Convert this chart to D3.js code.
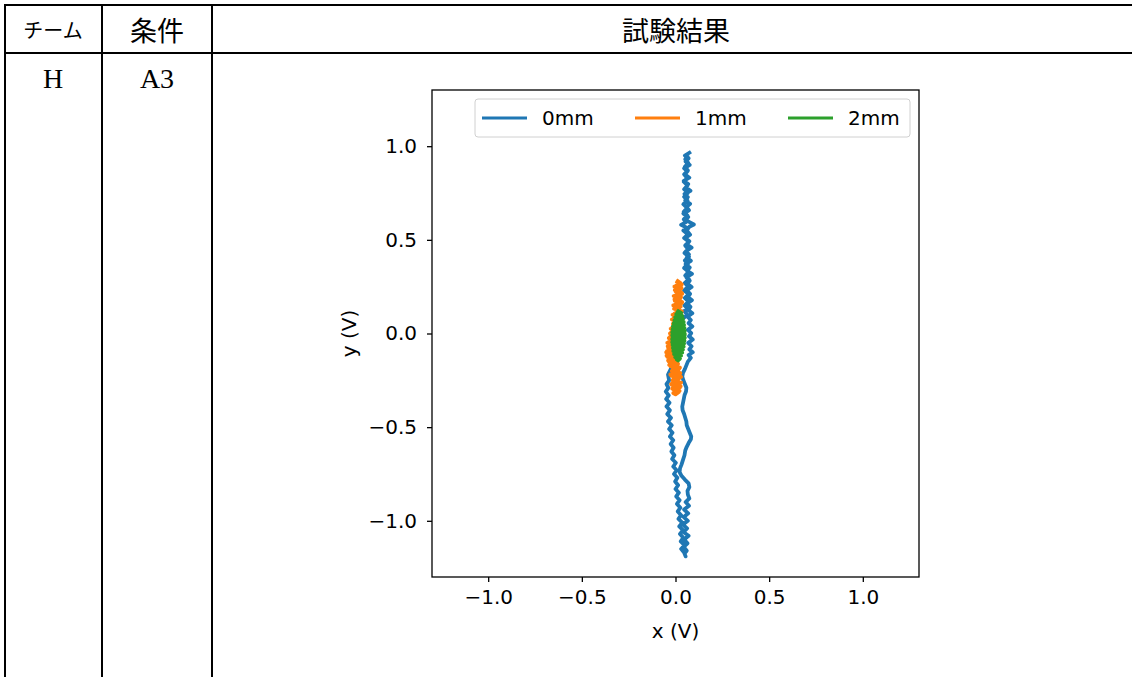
<!DOCTYPE html>
<html>
<head>
<meta charset="utf-8">
<script src="https://cdn.jsdelivr.net/npm/d3@7"></script>
<style>
  body { margin: 0; background: #fff; }
  svg { display: block; }
</style>
</head>
<body>
<svg id="page" width="1132" height="677"></svg>
<script>
// table texts
var headers = ["チーム", "条件", "試験結果"]
var rowCells = ["H", "A3"]

// axis ticks
var xTicks = [-1.0, -0.5, 0.0, 0.5, 1.0]
var yTicks = [-1.0, -0.5, 0.0, 0.5, 1.0]

var seriesNames = ["0mm", "1mm", "2mm"]
var seriesColors = ["#1f77b4", "#ff7f0e", "#2ca02c"]

// 0mm trace  [x, y] in volts
var trace0 = [
  [0.074,0.965],[0.050,0.950],[0.070,0.935],[0.054,0.918],[0.076,0.900],[0.046,0.882],[0.064,0.866],[0.050,0.850],
  [0.074,0.832],[0.044,0.815],[0.068,0.798],[0.056,0.780],[0.080,0.762],[0.048,0.745],[0.066,0.728],[0.052,0.710],
  [0.078,0.692],[0.058,0.675],[0.072,0.658],[0.042,0.640],[0.068,0.622],[0.056,0.605],[0.080,0.592],[0.098,0.582],
  [0.074,0.570],[0.060,0.550],[0.078,0.528],[0.052,0.510],[0.074,0.492],[0.060,0.475],[0.086,0.458],[0.056,0.440],
  [0.072,0.422],[0.060,0.405],[0.082,0.388],[0.054,0.370],[0.076,0.352],[0.062,0.335],[0.088,0.318],[0.058,0.300],
  [0.076,0.282],[0.064,0.265],[0.086,0.248],[0.060,0.230],[0.078,0.212],[0.066,0.195],[0.088,0.178],[0.062,0.160],
  [0.080,0.142],[0.068,0.125],[0.090,0.108],[0.064,0.090],[0.082,0.072],[0.070,0.055],[0.090,0.038],[0.066,0.020],
  [0.084,0.002],[0.072,-0.015],[0.092,-0.032],[0.068,-0.050],[0.086,-0.068],[0.074,-0.085],[0.092,-0.100],[0.070,-0.115],
  [0.082,-0.130],[0.066,-0.150],
  [0.058,-0.170],[0.050,-0.190],[0.040,-0.210],[0.036,-0.230],[0.042,-0.250],[0.050,-0.270],[0.058,-0.290],[0.056,-0.310],
  [0.048,-0.330],[0.044,-0.350],[0.040,-0.370],[0.036,-0.390],[0.038,-0.410],[0.046,-0.430],[0.052,-0.450],[0.058,-0.470],
  [0.060,-0.490],[0.068,-0.510],[0.076,-0.530],[0.084,-0.550],[0.082,-0.565],[0.070,-0.585],[0.060,-0.605],[0.052,-0.625],
  [0.048,-0.650],[0.040,-0.675],[0.032,-0.700],[0.024,-0.720],[0.022,-0.740],[0.032,-0.760],[0.050,-0.780],[0.070,-0.800],
  [0.074,-0.820],[0.064,-0.840],[0.066,-0.860],[0.074,-0.880],
  [0.054,-0.900],[0.072,-0.920],[0.046,-0.940],[0.068,-0.960],[0.044,-0.980],[0.066,-1.000],[0.040,-1.020],[0.062,-1.040],
  [0.042,-1.060],[0.070,-1.080],[0.046,-1.100],[0.064,-1.120],[0.044,-1.140],[0.060,-1.160],[0.048,-1.175],[0.054,-1.190],
  [0.046,-1.17],[0.030,-1.15],[0.048,-1.13],[0.028,-1.11],[0.042,-1.09],[0.024,-1.07],[0.040,-1.05],[0.020,-1.03],
  [0.036,-1.01],[0.016,-0.99],[0.030,-0.97],[0.012,-0.95],[0.026,-0.93],[0.008,-0.91],[0.022,-0.89],[0.004,-0.87],
  [0.018,-0.85],[0.000,-0.83],[0.014,-0.81],[-0.002,-0.79],[0.010,-0.77],[-0.008,-0.75],[0.006,-0.73],[-0.012,-0.71],
  [0.002,-0.69],[-0.018,-0.67],[-0.006,-0.65],[-0.022,-0.63],[-0.010,-0.61],[-0.026,-0.59],[-0.012,-0.57],[-0.030,-0.55],
  [-0.016,-0.53],[-0.034,-0.51],[-0.020,-0.49],[-0.040,-0.47],[-0.024,-0.45],[-0.044,-0.43],[-0.030,-0.41],[-0.048,-0.39],
  [-0.032,-0.37],[-0.050,-0.35],[-0.036,-0.33],[-0.052,-0.31],[-0.038,-0.29],[-0.048,-0.27],[-0.034,-0.25],[-0.040,-0.22],
  [-0.020,-0.18],[-0.030,-0.14],[-0.010,-0.10],[-0.018,-0.06],[0.005,-0.02],[0.000,0.02],[0.025,0.05],[0.040,0.08],
  [0.064,0.10],[0.046,0.12],[0.068,0.13],[0.048,0.15],[0.070,0.17],[0.050,0.19],[0.072,0.21],[0.046,0.23],
  [0.068,0.25],[0.050,0.27],[0.072,0.29],[0.052,0.31],[0.070,0.33],[0.046,0.35],[0.066,0.37],[0.050,0.39],
  [0.072,0.41],[0.048,0.43],[0.068,0.45],[0.052,0.47],[0.072,0.49],[0.046,0.51],[0.066,0.53],[0.042,0.55],
  [0.060,0.565],[0.030,0.580],[0.056,0.595],[0.044,0.61],[0.064,0.63],[0.044,0.65],[0.062,0.67],[0.042,0.69],
  [0.064,0.71],[0.046,0.73],[0.066,0.75],[0.046,0.77],[0.064,0.79],[0.044,0.81],[0.062,0.83],[0.046,0.85],
  [0.066,0.87],[0.050,0.89],[0.068,0.91],[0.052,0.93],[0.062,0.945]
]

// 1mm trace
var trace1 = [
  [0.010,0.275],[0.034,0.262],[-0.006,0.250],[0.030,0.238],[0.000,0.225],[0.036,0.212],[-0.010,0.200],[0.026,0.188],
  [-0.004,0.175],[0.034,0.162],[-0.012,0.150],[0.022,0.138],[0.002,0.125],[0.032,0.112],[-0.016,0.100],[0.020,0.088],
  [-0.020,0.075],[0.024,0.062],[-0.014,0.050],[0.018,0.038],[-0.026,0.025],[0.014,0.012],[-0.030,0.000],[0.010,-0.012],
  [-0.036,-0.025],[0.006,-0.038],[-0.044,-0.050],[0.000,-0.062],[-0.040,-0.075],[0.004,-0.088],[-0.050,-0.100],[-0.004,-0.112],
  [-0.044,-0.125],[0.008,-0.138],[-0.036,-0.150],[0.014,-0.162],[-0.028,-0.175],[0.020,-0.188],[-0.020,-0.200],[0.026,-0.212],
  [-0.024,-0.225],[0.022,-0.238],[-0.016,-0.250],[0.030,-0.262],[-0.020,-0.275],[0.024,-0.288],[-0.010,-0.300],[0.018,-0.312],
  [0.000,-0.325],
  [-0.012,-0.318],[0.022,-0.306],[-0.018,-0.294],[0.028,-0.282],[-0.024,-0.270],[0.016,-0.256],[-0.012,-0.244],[0.030,-0.232],
  [-0.028,-0.218],[0.018,-0.206],[-0.016,-0.194],[0.024,-0.182],[-0.034,-0.168],[0.010,-0.156],[-0.040,-0.144],[0.002,-0.132],
  [-0.048,-0.118],[0.006,-0.106],[-0.046,-0.094],[-0.002,-0.082],[-0.042,-0.068],[0.008,-0.056],[-0.036,-0.044],[0.012,-0.032],
  [-0.030,-0.018],[0.016,-0.006],[-0.024,0.006],[0.020,0.018],[-0.018,0.032],[0.026,0.044],[-0.012,0.056],[0.028,0.068],
  [-0.010,0.082],[0.030,0.094],[-0.006,0.106],[0.034,0.118],[-0.008,0.132],[0.028,0.144],[0.000,0.156],[0.036,0.168],
  [-0.006,0.182],[0.030,0.194],[0.002,0.206],[0.034,0.218],[-0.004,0.232],[0.032,0.244],[0.004,0.256],[0.028,0.268],
  [0.012,0.280]
]

// 2mm trace
var trace2 = [
  [0.016,0.118],[0.030,0.110],[0.004,0.102],[0.036,0.094],[-0.002,0.086],[0.040,0.078],[-0.006,0.070],[0.044,0.062],
  [-0.010,0.054],[0.046,0.046],[-0.014,0.038],[0.048,0.030],[-0.016,0.022],[0.050,0.014],[-0.018,0.006],[0.050,-0.002],
  [-0.018,-0.010],[0.048,-0.018],[-0.016,-0.026],[0.046,-0.034],[-0.016,-0.042],[0.044,-0.050],[-0.014,-0.058],[0.040,-0.066],
  [-0.012,-0.074],[0.036,-0.082],[-0.008,-0.090],[0.032,-0.098],[-0.004,-0.106],[0.028,-0.114],[0.000,-0.122],[0.022,-0.130],
  [0.006,-0.138],[0.014,-0.144],
  [0.024,-0.134],[-0.002,-0.126],[0.030,-0.118],[-0.008,-0.110],[0.036,-0.102],[-0.012,-0.094],[0.040,-0.086],[-0.014,-0.078],
  [0.044,-0.070],[-0.016,-0.062],[0.046,-0.054],[-0.018,-0.046],[0.048,-0.038],[-0.018,-0.030],[0.050,-0.022],[-0.016,-0.014],
  [0.050,-0.006],[-0.016,0.002],[0.048,0.010],[-0.014,0.018],[0.046,0.026],[-0.012,0.034],[0.044,0.042],[-0.008,0.050],
  [0.040,0.058],[-0.004,0.066],[0.036,0.074],[0.000,0.082],[0.032,0.090],[0.004,0.098],[0.026,0.106],[0.012,0.114]
]

var traces = [trace0, trace1, trace2]

var page = d3.select("#page")

// ---- table frame
var tableFont = "'Liberation Serif', 'Noto Sans CJK JP', serif"
var grid = page.append("g").attr("stroke", "#000").attr("stroke-width", 2)
grid.append("line").attr("x1", 4).attr("x2", 1140).attr("y1", 5).attr("y2", 5)
grid.append("line").attr("x1", 4).attr("x2", 1140).attr("y1", 53).attr("y2", 53)
;[5, 102, 212].forEach(function (cx) {
  grid.append("line").attr("x1", cx).attr("x2", cx).attr("y1", 4).attr("y2", 677)
})

var colCenters = [53, 157, 676]
var headSizes = [20, 27, 27]
headers.forEach(function (h, i) {
  page.append("text")
    .attr("x", colCenters[i]).attr("y", 29)
    .attr("text-anchor", "middle").attr("dominant-baseline", "central")
    .style("font-family", "'Noto Sans CJK JP', sans-serif")
    .style("font-size", headSizes[i] + "px")
    .text(h)
})
rowCells.forEach(function (c, i) {
  page.append("text")
    .attr("x", colCenters[i]).attr("y", 88)
    .attr("text-anchor", "middle")
    .style("font-family", tableFont)
    .style("font-size", "28px")
    .text(c)
})

// ---- plot
var pLeft = 432, pRight = 919, pTop = 90, pBottom = 577
var x = d3.scaleLinear().domain([-1.3, 1.3]).range([pLeft, pRight])
var y = d3.scaleLinear().domain([-1.3, 1.3]).range([pBottom, pTop])
var fmt = d3.format(".1f")
var axisFont = "'DejaVu Sans', sans-serif"

page.append("clipPath").attr("id", "plotclip")
  .append("rect").attr("x", pLeft).attr("y", pTop).attr("width", pRight - pLeft).attr("height", pBottom - pTop)

var line = d3.line().x(d => x(d[0])).y(d => y(d[1]))

page.append("g").attr("clip-path", "url(#plotclip)")
  .selectAll("path")
  .data(traces)
  .enter().append("path")
  .attr("d", line)
  .attr("fill", "none")
  .attr("stroke", (d, i) => seriesColors[i])
  .attr("stroke-width", 3.8)
  .attr("stroke-linejoin", "round")
  .attr("stroke-linecap", "square")

var xAxis = page.append("g")
  .attr("transform", "translate(0," + pBottom + ")")
  .call(d3.axisBottom(x).tickValues(xTicks).tickFormat(fmt).tickSize(5).tickPadding(8))
var yAxis = page.append("g")
  .attr("transform", "translate(" + pLeft + ",0)")
  .call(d3.axisLeft(y).tickValues(yTicks).tickFormat(fmt).tickSize(5).tickPadding(10))

;[xAxis, yAxis].forEach(function (a) {
  a.select(".domain").remove()
  a.selectAll(".tick line").attr("stroke", "#000").attr("stroke-width", 1.3)
  a.selectAll(".tick text").style("font-family", axisFont).style("font-size", "20px").attr("fill", "#000")
})

// spines
page.append("rect")
  .attr("x", pLeft).attr("y", pTop).attr("width", pRight - pLeft).attr("height", pBottom - pTop)
  .attr("fill", "none").attr("stroke", "#000").attr("stroke-width", 1.3)

page.append("text")
  .attr("x", (pLeft + pRight) / 2).attr("y", 638)
  .attr("text-anchor", "middle")
  .style("font-family", axisFont).style("font-size", "20px")
  .text("x (V)")

page.append("text")
  .attr("transform", "translate(356," + ((pTop + pBottom) / 2) + ") rotate(-90)")
  .attr("text-anchor", "middle")
  .style("font-family", axisFont).style("font-size", "20px")
  .text("y (V)")

// ---- legend
var legend = page.append("g")
legend.append("rect")
  .attr("x", 475).attr("y", 99).attr("width", 435).attr("height", 38).attr("rx", 3)
  .attr("fill", "#fff").attr("fill-opacity", 0.8)
  .attr("stroke", "#d0d0d0").attr("stroke-width", 1)

var legendX = [482, 635, 788]
seriesNames.forEach(function (name, i) {
  legend.append("line")
    .attr("x1", legendX[i]).attr("x2", legendX[i] + 45)
    .attr("y1", 118).attr("y2", 118)
    .attr("stroke", seriesColors[i]).attr("stroke-width", 3)
  legend.append("text")
    .attr("x", legendX[i] + 60).attr("y", 125)
    .style("font-family", axisFont).style("font-size", "20px")
    .text(name)
})
</script>
</body>
</html>
